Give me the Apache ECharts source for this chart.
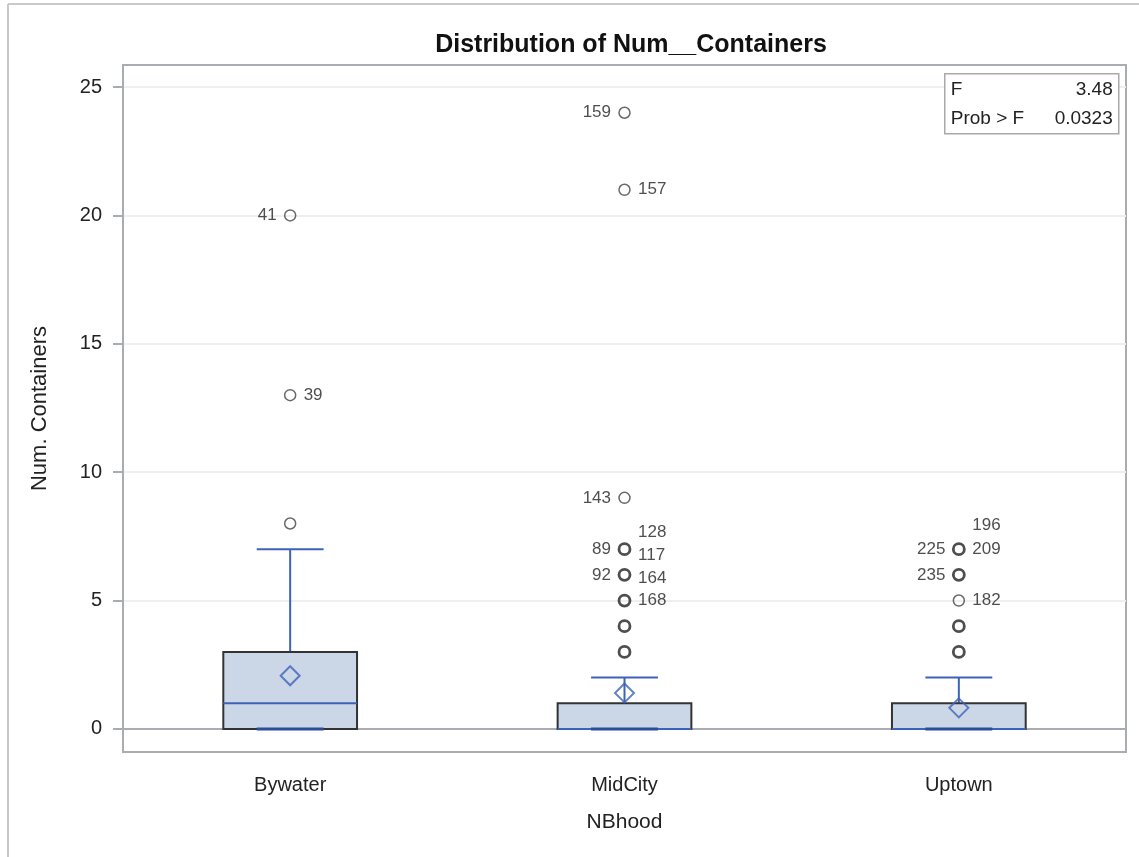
<!DOCTYPE html>
<html>
<head>
<meta charset="utf-8">
<script src="https://cdn.jsdelivr.net/npm/echarts@6/dist/echarts.min.js"></script>
<style>
  html, body { margin: 0; padding: 0; background: #fff; }
  #main { width: 1139px; height: 857px; }
</style>
</head>
<body>
<div id="main"></div>
<script>
// data
const categories = ['Bywater', 'MidCity', 'Uptown'];
// [low whisker, Q1, median, Q3, high whisker]
const boxStats = [
    [0, 0, 1, 3, 7],
    [0, 0, 0, 1, 2],
    [0, 0, 0, 1, 2]
];
const means = [2.07, 1.4, 0.82];
const yTicks = [0, 5, 10, 15, 20, 25];
// [category index, value, number of points drawn on top of each other]
const outliers = [
    [0, 8, 1], [0, 13, 1], [0, 20, 1],
    [1, 3, 3], [1, 4, 3], [1, 5, 2], [1, 6, 2], [1, 7, 3], [1, 9, 1], [1, 21, 1], [1, 24, 1],
    [2, 3, 3], [2, 4, 3], [2, 5, 1], [2, 6, 2], [2, 7, 3]
];
// [category index, value, observation id]
const outlierIds = [
    [0, 20, '41'], [0, 13, '39'],
    [1, 24, '159'], [1, 21, '157'], [1, 9, '143'],
    [1, 7, '89'], [1, 7, '117'], [1, 7, '128'],
    [1, 6, '92'], [1, 6, '164'], [1, 5, '168'],
    [2, 7, '225'], [2, 7, '209'], [2, 7, '196'],
    [2, 6, '235'], [2, 5, '182']
];
const fStat = '3.48';
const probF = '0.0323';

// where each id label sits next to its circle: [side, vertical shift]
const labelPlace = {
    '41': ['left', 0], '39': ['right', 0], '159': ['left', 0], '157': ['right', 0],
    '143': ['left', 0], '89': ['left', 0], '117': ['right', 6], '128': ['right', -17],
    '92': ['left', 0], '164': ['right', 3], '168': ['right', 0],
    '225': ['left', 0], '209': ['right', 0], '196': ['right', -24],
    '235': ['left', 0], '182': ['right', 0]
};

const BLUE = '#3d63b8';
const FONT = '"Liberation Sans", Arial, sans-serif';

const chart = echarts.init(document.getElementById('main'), null, { renderer: 'canvas' });

function renderBox(params, api) {
    const x = api.value(0);
    const low = api.coord([x, api.value(1)]);
    const q1 = api.coord([x, api.value(2)]);
    const med = api.coord([x, api.value(3)]);
    const q3 = api.coord([x, api.value(4)]);
    const high = api.coord([x, api.value(5)]);
    const band = api.size([1, 0])[0];
    const bw = band * 0.4;
    const cw = bw / 2;
    const cx = q1[0];
    const lineStyle = { stroke: BLUE, lineWidth: 2 };
    return {
        type: 'group',
        children: [
            { type: 'line', shape: { x1: cx, y1: q3[1], x2: cx, y2: high[1] }, style: lineStyle },
            { type: 'line', shape: { x1: cx, y1: low[1], x2: cx, y2: q1[1] }, style: lineStyle },
            {
                type: 'rect',
                shape: { x: cx - bw / 2, y: q3[1], width: bw, height: q1[1] - q3[1] },
                style: { fill: '#cbd6e6', stroke: '#333', lineWidth: 2 }
            },
            { type: 'line', shape: { x1: cx - bw / 2, y1: med[1], x2: cx + bw / 2, y2: med[1] }, style: lineStyle },
            { type: 'line', shape: { x1: cx - cw / 2, y1: high[1], x2: cx + cw / 2, y2: high[1] }, style: lineStyle },
            { type: 'line', shape: { x1: cx - cw / 2, y1: low[1], x2: cx + cw / 2, y2: low[1] }, style: { stroke: '#2b4d9c', lineWidth: 3 } }
        ]
    };
}

const option = {
    backgroundColor: '#fff',
    animation: false,
    textStyle: { fontFamily: FONT },
    title: {
        text: 'Distribution of Num__Containers',
        left: 626,
        top: 28,
        textAlign: 'center',
        textStyle: { fontSize: 25, fontWeight: 'bold', color: '#111', fontFamily: FONT }
    },
    grid: {
        left: 123, right: 13, top: 65, bottom: 105,
        show: true, borderColor: '#a9adb1', borderWidth: 2, backgroundColor: '#fff'
    },
    xAxis: {
        type: 'category',
        data: categories,
        boundaryGap: true,
        name: 'NBhood',
        nameLocation: 'middle',
        nameGap: 60,
        nameTextStyle: { fontSize: 21, color: '#222', fontFamily: FONT },
        axisLine: { lineStyle: { color: '#a9adb1', width: 2 } },
        axisTick: { alignWithLabel: true, length: 8, lineStyle: { color: '#a9adb1', width: 2 } },
        axisLabel: { fontSize: 20, color: '#222', margin: 23, fontFamily: FONT },
        splitLine: { show: false }
    },
    yAxis: {
        type: 'value',
        min: -0.9,
        max: 25.86,
        name: 'Num. Containers',
        nameLocation: 'middle',
        nameRotate: 90,
        nameGap: 72,
        nameTextStyle: { fontSize: 22, color: '#222', fontFamily: FONT },
        axisLine: { show: true, lineStyle: { color: '#a9adb1', width: 2 } },
        axisTick: { show: true, length: 10, customValues: yTicks, lineStyle: { color: '#a9adb1', width: 2 } },
        axisLabel: { fontSize: 20, color: '#222', margin: 21, customValues: yTicks, fontFamily: FONT },
        splitLine: { show: true, lineStyle: { color: '#efefef', width: 2 } }
    },
    graphic: [
        { type: 'line', shape: { x1: 8, y1: 4, x2: 1139, y2: 4 }, style: { stroke: '#c9c9c9', lineWidth: 2 } },
        { type: 'line', shape: { x1: 8, y1: 4, x2: 8, y2: 857 }, style: { stroke: '#c9c9c9', lineWidth: 2 } },
        {
            type: 'group',
            left: 944, top: 73,
            z: 100,
            children: [
                { type: 'rect', z: 100, shape: { x: 0, y: 0, width: 174, height: 60 }, style: { fill: '#fff', stroke: '#a9a9a9', lineWidth: 1.5 } },
                { type: 'text', z: 101, x: 6, y: 16, style: { text: 'F', font: '19px ' + FONT, fill: '#222', verticalAlign: 'middle' } },
                { type: 'text', z: 101, x: 168, y: 16, style: { text: fStat, font: '19px ' + FONT, fill: '#222', align: 'right', verticalAlign: 'middle' } },
                { type: 'text', z: 101, x: 6, y: 45, style: { text: 'Prob > F', font: '19px ' + FONT, fill: '#222', verticalAlign: 'middle' } },
                { type: 'text', z: 101, x: 168, y: 45, style: { text: probF, font: '19px ' + FONT, fill: '#222', align: 'right', verticalAlign: 'middle' } }
            ]
        }
    ],
    series: [
        {
            type: 'custom',
            renderItem: renderBox,
            encode: { x: 0, y: [1, 2, 3, 4, 5] },
            data: boxStats.map((s, i) => [i].concat(s)),
            z: 2
        },
        {
            type: 'scatter',
            symbol: 'diamond',
            symbolSize: [19, 19],
            itemStyle: { color: 'rgba(0,0,0,0)', borderColor: BLUE, borderWidth: 2 },
            data: means.map((m, i) => [i, m]),
            z: 3
        },
        {
            type: 'scatter',
            symbol: 'circle',
            symbolSize: 11,
            data: outliers.map(o => ({
                value: [o[0], o[1]],
                itemStyle: {
                    color: 'rgba(0,0,0,0)',
                    borderColor: o[2] > 1 ? '#222' : '#444',
                    borderWidth: o[2] > 1 ? 2.8 : 1.5
                }
            })),
            z: 4
        },
        {
            type: 'scatter',
            symbolSize: 11,
            itemStyle: { color: 'rgba(0,0,0,0)', borderWidth: 0 },
            silent: true,
            data: outlierIds.map(o => {
                const p = labelPlace[o[2]];
                return {
                    value: [o[0], o[1]],
                    label: {
                        show: true,
                        formatter: o[2],
                        position: p[0],
                        distance: 8,
                        offset: [0, p[1]],
                        fontSize: 17,
                        color: '#222',
                        fontFamily: FONT
                    }
                };
            }),
            z: 5
        }
    ]
};

chart.setOption(option);
</script>
</body>
</html>
